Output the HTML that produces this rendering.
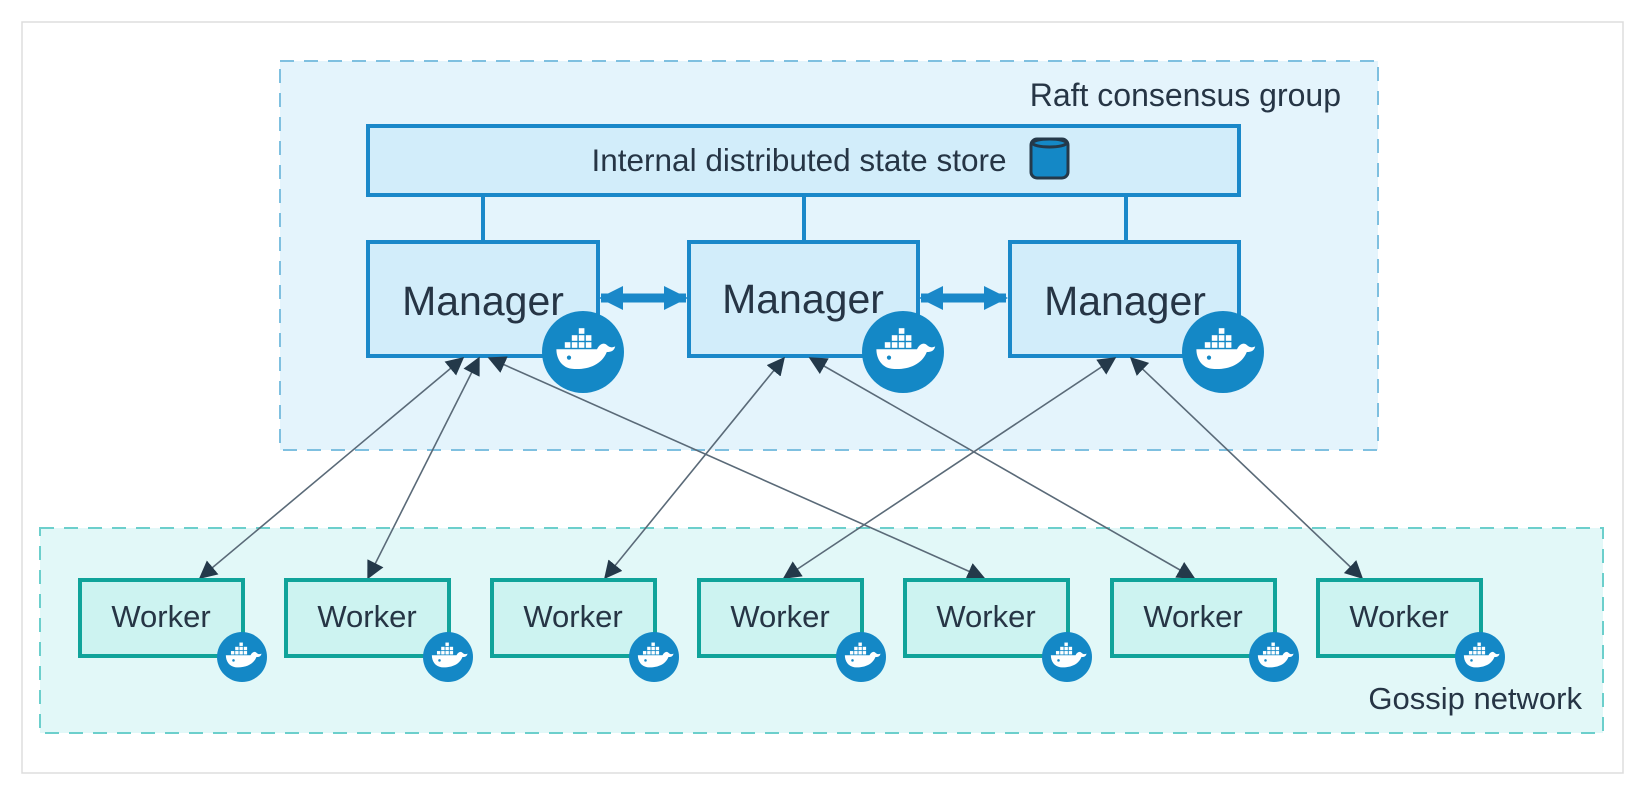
<!DOCTYPE html>
<html><head><meta charset="utf-8"><style>
html,body{margin:0;padding:0;background:#fff;width:1650px;height:799px;overflow:hidden}
svg{display:block}
text{font-family:"Liberation Sans",sans-serif;fill:#263545}
</style></head><body>
<svg width="1650" height="799" viewBox="0 0 1650 799" xmlns="http://www.w3.org/2000/svg">
<defs>
<marker id="a" viewBox="0 0 12 12" refX="11" refY="6" markerWidth="18" markerHeight="18" markerUnits="userSpaceOnUse" orient="auto-start-reverse"><path d="M0,0 L12,6 L0,12 z" fill="#24394a"/></marker>
<marker id="b" viewBox="0 0 12 12" refX="11" refY="6" markerWidth="24" markerHeight="24" markerUnits="userSpaceOnUse" orient="auto-start-reverse"><path d="M0,0 L12,6 L0,12 z" fill="#1a88c9"/></marker>
<g id="whale" fill="#fff">
<rect x="-13" y="-7" width="4" height="4"/><rect x="-8" y="-7" width="4" height="4"/><rect x="-3" y="-7" width="4" height="4"/><rect x="2" y="-7" width="4" height="4"/>
<rect x="-8" y="-12" width="4" height="4"/><rect x="-3" y="-12" width="4" height="4"/><rect x="2" y="-12" width="4" height="4"/>
<rect x="-3" y="-17" width="4" height="4"/>
<path d="M-19,-2 L10,-2 C12,-6 15,-7 17,-5 C19,-3 21,-3 23,-4 C22,0 19,0 17,0 C13,10 2,13 -8,12 C-15,11 -19,5 -19,-2 z"/>
<circle cx="-10" cy="4" r="1.5" fill="#1488c6"/>
</g>
</defs>
<rect x="22" y="22" width="1601" height="751" fill="#fff" stroke="#ddd" stroke-width="1.5"/>
<rect x="280" y="61" width="1098" height="389" fill="#e4f4fc" stroke="#7fc0e0" stroke-width="2" stroke-dasharray="14,10"/>
<text x="1341" y="106" font-size="32" text-anchor="end">Raft consensus group</text>
<rect x="40" y="528" width="1563" height="205" fill="#e2f8f8" stroke="#6ccfcc" stroke-width="2" stroke-dasharray="14,10"/>
<text x="1582" y="709" font-size="31" text-anchor="end">Gossip network</text>
<line x1="483" y1="195" x2="483" y2="242" stroke="#1a88c9" stroke-width="4"/>
<line x1="804" y1="195" x2="804" y2="242" stroke="#1a88c9" stroke-width="4"/>
<line x1="1126" y1="195" x2="1126" y2="242" stroke="#1a88c9" stroke-width="4"/>
<rect x="368" y="126" width="871" height="69" fill="#d2edfa" stroke="#1a88c9" stroke-width="4"/>
<text x="799" y="171" font-size="31.5" text-anchor="middle">Internal distributed state store</text>
<rect x="1031" y="139" width="37" height="39" rx="6" fill="#1488c6" stroke="#24394a" stroke-width="3"/>
<ellipse cx="1049.5" cy="143" rx="17" ry="4" fill="#1488c6" stroke="#24394a" stroke-width="3"/>
<line x1="601" y1="298" x2="686" y2="298" stroke="#1a88c9" stroke-width="9" marker-start="url(#b)" marker-end="url(#b)"/>
<line x1="921" y1="298" x2="1006" y2="298" stroke="#1a88c9" stroke-width="9" marker-start="url(#b)" marker-end="url(#b)"/>
<g stroke="#1a88c9" stroke-width="4" fill="#d2edfa">
<rect x="368" y="242" width="230" height="114"/>
<rect x="689" y="242" width="229" height="114"/>
<rect x="1010" y="242" width="229" height="114"/>
</g>
<text x="483" y="315" font-size="41" text-anchor="middle">Manager</text>
<text x="803" y="313" font-size="41" text-anchor="middle">Manager</text>
<text x="1125" y="315" font-size="41" text-anchor="middle">Manager</text>
<g><circle cx="583" cy="352" r="41" fill="#1488c6"/><use href="#whale" transform="translate(583,352) scale(1.4)"/></g>
<g><circle cx="903" cy="352" r="41" fill="#1488c6"/><use href="#whale" transform="translate(903,352) scale(1.4)"/></g>
<g><circle cx="1223" cy="352" r="41" fill="#1488c6"/><use href="#whale" transform="translate(1223,352) scale(1.4)"/></g>
<g stroke="#5a6a78" stroke-width="1.6" marker-start="url(#a)" marker-end="url(#a)">
<line x1="463" y1="358" x2="200" y2="578"/>
<line x1="479" y1="358" x2="368" y2="578"/>
<line x1="489" y1="358" x2="984" y2="578"/>
<line x1="784" y1="358" x2="605" y2="578"/>
<line x1="810" y1="358" x2="1194" y2="578"/>
<line x1="1115" y1="358" x2="784" y2="578"/>
<line x1="1131" y1="358" x2="1362" y2="578"/>
</g>
<g stroke="#10a39a" stroke-width="4" fill="#cdf3f1">
<rect x="80" y="580" width="163" height="76"/>
<rect x="286" y="580" width="163" height="76"/>
<rect x="492" y="580" width="163" height="76"/>
<rect x="699" y="580" width="163" height="76"/>
<rect x="905" y="580" width="163" height="76"/>
<rect x="1112" y="580" width="163" height="76"/>
<rect x="1318" y="580" width="163" height="76"/>
</g>
<g font-size="31" text-anchor="middle">
<text x="161" y="627">Worker</text>
<text x="367" y="627">Worker</text>
<text x="573" y="627">Worker</text>
<text x="780" y="627">Worker</text>
<text x="986" y="627">Worker</text>
<text x="1193" y="627">Worker</text>
<text x="1399" y="627">Worker</text>
</g>
<g fill="#1488c6">
<circle cx="242" cy="657" r="25"/><circle cx="448" cy="657" r="25"/><circle cx="654" cy="657" r="25"/><circle cx="861" cy="657" r="25"/><circle cx="1067" cy="657" r="25"/><circle cx="1274" cy="657" r="25"/><circle cx="1480" cy="657" r="25"/>
</g>
<use href="#whale" transform="translate(242,657) scale(0.85)"/>
<use href="#whale" transform="translate(448,657) scale(0.85)"/>
<use href="#whale" transform="translate(654,657) scale(0.85)"/>
<use href="#whale" transform="translate(861,657) scale(0.85)"/>
<use href="#whale" transform="translate(1067,657) scale(0.85)"/>
<use href="#whale" transform="translate(1274,657) scale(0.85)"/>
<use href="#whale" transform="translate(1480,657) scale(0.85)"/>
</svg>
</body></html>
